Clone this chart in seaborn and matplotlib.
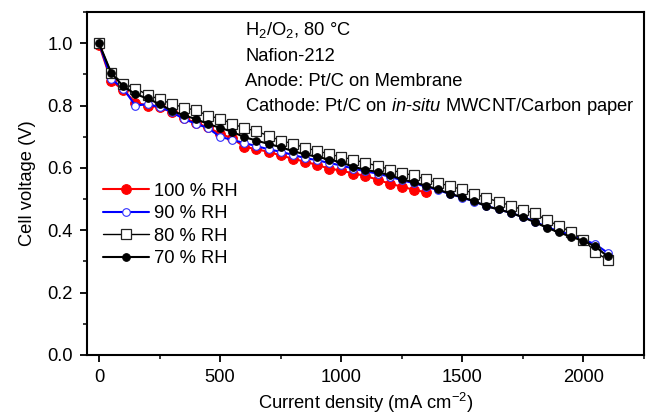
import matplotlib
matplotlib.use("Agg")
import matplotlib.pyplot as plt
from matplotlib.ticker import MultipleLocator
import seaborn as sns

# ==========================================
# data
# ==========================================
current_density = [0, 50, 100, 150, 200, 250, 300, 350, 400, 450, 500, 550, 600, 650,
                   700, 750, 800, 850, 900, 950, 1000, 1050, 1100, 1150, 1200, 1250,
                   1300, 1350, 1400, 1450, 1500, 1550, 1600, 1650, 1700, 1750, 1800,
                   1850, 1900, 1950, 2000, 2050, 2100]

rh100 = [0.995, 0.880, 0.850, 0.810, 0.800, 0.795, 0.780, 0.760, 0.745, 0.730, 0.710,
         0.695, 0.668, 0.660, 0.652, 0.640, 0.630, 0.620, 0.610, 0.598, 0.592, 0.582,
         0.575, 0.562, 0.550, 0.540, 0.530, 0.522]

rh90 = [1.000, 0.885, 0.855, 0.800, 0.805, 0.795, 0.780, 0.757, 0.742, 0.728, 0.700,
        0.690, 0.680, 0.670, 0.660, 0.652, 0.642, 0.632, 0.625, 0.616, 0.608, 0.598,
        0.589, 0.582, 0.572, 0.561, 0.551, 0.540, 0.529, 0.516, 0.505, 0.492, 0.478,
        0.467, 0.456, 0.443, 0.428, 0.410, 0.397, 0.385, 0.370, 0.355, 0.328]

rh80 = [1.000, 0.905, 0.871, 0.855, 0.835, 0.820, 0.806, 0.794, 0.785, 0.768, 0.758,
        0.742, 0.728, 0.718, 0.703, 0.688, 0.678, 0.665, 0.655, 0.645, 0.635, 0.627,
        0.616, 0.607, 0.595, 0.584, 0.576, 0.563, 0.553, 0.541, 0.531, 0.518, 0.503,
        0.492, 0.479, 0.466, 0.454, 0.432, 0.414, 0.394, 0.370, 0.330, 0.305]

rh70 = [1.000, 0.905, 0.862, 0.837, 0.823, 0.805, 0.784, 0.769, 0.757, 0.741, 0.729,
        0.716, 0.699, 0.688, 0.677, 0.667, 0.654, 0.644, 0.636, 0.627, 0.618, 0.604,
        0.594, 0.587, 0.577, 0.564, 0.554, 0.543, 0.531, 0.517, 0.506, 0.493, 0.477,
        0.467, 0.456, 0.442, 0.426, 0.408, 0.393, 0.379, 0.366, 0.348, 0.316]

labels = ["100 % RH", "90 % RH", "80 % RH", "70 % RH"]

# ==========================================
# style
# ==========================================
sns.set_theme(style="ticks")
plt.rcParams["font.family"] = ["Liberation Sans", "DejaVu Sans"]
plt.rcParams["mathtext.fontset"] = "custom"
plt.rcParams["mathtext.rm"] = "Liberation Sans"
plt.rcParams["mathtext.it"] = "Liberation Sans:italic"
plt.rcParams["text.color"] = "black"
plt.rcParams["axes.labelcolor"] = "black"

FS = 13.2

fig, ax = plt.subplots(figsize=(6.51, 4.2), dpi=100)
fig.subplots_adjust(left=0.1336, right=0.989, top=0.971, bottom=0.155)

# red, filled
sns.lineplot(x=current_density[:len(rh100)], y=rh100, ax=ax, color="#ff0000",
             lw=1.5, marker="o", markersize=7, markerfacecolor="#ff0000",
             markeredgecolor="#ff0000", label=labels[0], sort=False)
# blue, open
sns.lineplot(x=current_density, y=rh90, ax=ax, color="#0000ff", lw=1.5,
             marker="o", markersize=5.5, markerfacecolor="white",
             markeredgecolor="#3030ff", markeredgewidth=0.8, label=labels[1], sort=False)
# black, open squares
sns.lineplot(x=current_density, y=rh80, ax=ax, color="black", lw=1.0,
             marker="s", markersize=7, markerfacecolor="white",
             markeredgecolor="#222222", markeredgewidth=0.9, label=labels[2], sort=False)
# black, filled
sns.lineplot(x=current_density, y=rh70, ax=ax, color="black", lw=1.5,
             marker="o", markersize=5.5, markerfacecolor="black",
             markeredgecolor="black", label=labels[3], sort=False)

ax.set_xlim(-50, 2250)
ax.set_ylim(0, 1.1)
ax.xaxis.set_major_locator(MultipleLocator(500))
ax.xaxis.set_minor_locator(MultipleLocator(250))
ax.yaxis.set_major_locator(MultipleLocator(0.2))
ax.yaxis.set_minor_locator(MultipleLocator(0.1))
ax.yaxis.set_major_formatter(matplotlib.ticker.FormatStrFormatter("%.1f"))

for s in ax.spines.values():
    s.set_linewidth(1.5)
    s.set_color("black")
    s.set_visible(True)
ax.tick_params(which="major", direction="out", length=5, width=1.3,
               labelsize=FS, colors="black", pad=5)
ax.tick_params(which="minor", direction="out", length=3, width=1.1, colors="black")
ax.tick_params(axis="x", which="both", top=False)
ax.tick_params(axis="y", which="both", right=False)

ax.set_xlabel("Current density (mA cm$^{-2}$)", fontsize=FS, labelpad=4)
ax.set_ylabel("Cell voltage (V)", fontsize=FS, labelpad=8)

# annotation block
tx = 0.284
ax.text(tx, 0.948, "H$_2$/O$_2$, 80 °C", transform=ax.transAxes, fontsize=FS, va="center")
ax.text(tx, 0.870, "Nafion-212", transform=ax.transAxes, fontsize=FS, va="center")
ax.text(tx, 0.797, "Anode: Pt/C on Membrane", transform=ax.transAxes, fontsize=FS, va="center")
ax.text(tx, 0.726, "Cathode: Pt/C on $\\it{in}$-$\\it{situ}$ MWCNT/Carbon paper",
        transform=ax.transAxes, fontsize=FS, va="center")

ax.legend(loc="center left", bbox_to_anchor=(0.029, 0.379), frameon=False,
          fontsize=FS, borderpad=0, borderaxespad=0, handlelength=2.5,
          handletextpad=0.3, labelspacing=0.3)

fig.savefig("out.png", dpi=100)
